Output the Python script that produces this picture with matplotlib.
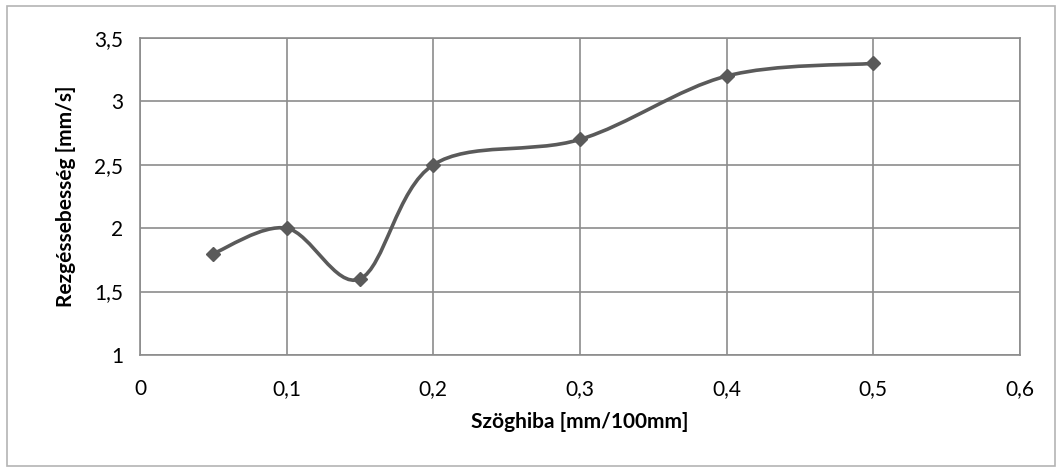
import matplotlib.pyplot as plt
from matplotlib.path import Path
from matplotlib.patches import PathPatch, Rectangle
import numpy as np

plt.rcParams['font.family'] = ['Lato', 'DejaVu Sans']

szoghiba = [0.05, 0.1, 0.15, 0.2, 0.3, 0.4, 0.5]
rezges = [1.8, 2.0, 1.6, 2.5, 2.7, 3.2, 3.3]
x_ticks = [0, 0.1, 0.2, 0.3, 0.4, 0.5, 0.6]
x_labels = ['0', '0,1', '0,2', '0,3', '0,4', '0,5', '0,6']
y_ticks = [1, 1.5, 2, 2.5, 3, 3.5]
y_labels = ['1', '1,5', '2', '2,5', '3', '3,5']

fig = plt.figure(figsize=(10.62, 4.72), dpi=100)
ax = fig.add_axes([0.1318, 0.2479, 0.8286, 0.6716])

# smooth line like Excel (Catmull-Rom as Bezier segments)
pts = np.column_stack([szoghiba, rezges])
verts = [pts[0]]
codes = [Path.MOVETO]
n = len(pts)
for i in range(n - 1):
    p0 = pts[max(i - 1, 0)]
    p1 = pts[i]
    p2 = pts[i + 1]
    p3 = pts[min(i + 2, n - 1)]
    verts += [p1 + (p2 - p0) / 6, p2 - (p3 - p1) / 6, p2]
    codes += [Path.CURVE4] * 3
ax.add_patch(PathPatch(Path(verts, codes), fill=False, edgecolor='#5a5a5a', lw=2.6, zorder=3))
ax.plot(szoghiba, rezges, linestyle='none', marker='D', markersize=7.5, color='#5a5a5a', zorder=4)

ax.set_xlim(0, 0.6)
ax.set_ylim(1, 3.5)
ax.set_xticks(x_ticks)
ax.set_xticklabels(x_labels)
ax.set_yticks(y_ticks)
ax.set_yticklabels(y_labels)
ax.tick_params(length=0, labelsize=15, pad=12)
ax.tick_params(axis='x', pad=17)
ax.grid(True, color='#8c8c8c', lw=1.2)
ax.set_axisbelow(True)
for s in ax.spines.values():
    s.set_color('#8c8c8c')
    s.set_linewidth(1.2)

ax.set_xlabel('Szöghiba [mm/100mm]', fontsize=15, fontweight='bold', labelpad=10)
ax.set_ylabel('Rezgéssebesség [mm/s]', fontsize=15, fontweight='bold', labelpad=13)

fig.patches.append(Rectangle((7 / 1062, 6 / 472), 1048 / 1062, 460 / 472, transform=fig.transFigure,
                             fill=False, edgecolor='#b4b4b4', lw=1.2))

fig.savefig('out.png', dpi=100)
